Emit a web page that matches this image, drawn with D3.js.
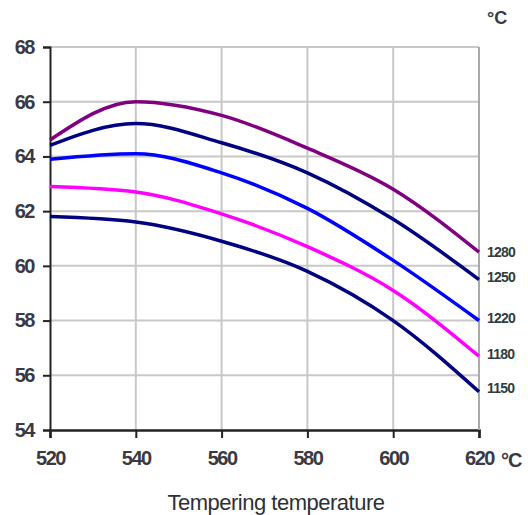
<!DOCTYPE html>
<html>
<head>
<meta charset="utf-8">
<script src="https://cdn.jsdelivr.net/npm/d3@7"></script>
<style>
  body { margin: 0; background: #fff; }
  svg { display: block; font-family: "Liberation Sans", Arial, sans-serif; }
</style>
</head>
<body>
<div id="chart"></div>
<script>
// tempering temperature (x) vs hardness, one curve per hardening temperature
const temps = [520, 540, 560, 580, 600, 620];
const yTicks = [54, 56, 58, 60, 62, 64, 66, 68];

const h1280 = [64.6, 66.0, 65.5, 64.3, 62.8, 60.5];
const h1250 = [64.4, 65.2, 64.5, 63.4, 61.7, 59.5];
const h1220 = [63.9, 64.1, 63.4, 62.1, 60.2, 58.0];
const h1180 = [62.9, 62.7, 61.9, 60.7, 59.1, 56.7];
const h1150 = [61.8, 61.6, 60.9, 59.8, 58.0, 55.4];

const seriesNames = ["1280", "1250", "1220", "1180", "1150"];
const seriesColors = ["#800080", "#000080", "#0000ff", "#ff00ff", "#000080"];
const series = [h1280, h1250, h1220, h1180, h1150];

const svg = d3.select("#chart").append("svg")
    .attr("width", 528)
    .attr("height", 515);

const margin = {top: 47, right: 49, bottom: 85, left: 50};
const width = 528 - margin.left - margin.right;
const height = 515 - margin.top - margin.bottom;

const g = svg.append("g").attr("transform", `translate(${margin.left},${margin.top})`);

const x = d3.scaleLinear().domain([520, 620]).range([0, width]);
const y = d3.scaleLinear().domain([54, 68]).range([height, 0]);

// grid
g.append("g").selectAll("line")
    .data(temps.slice(1))
    .enter().append("line")
    .attr("x1", d => x(d)).attr("x2", d => x(d))
    .attr("y1", 0).attr("y2", height)
    .attr("stroke", "#c8c8c8")
    .attr("stroke-width", 2);

g.append("g").selectAll("line")
    .data(yTicks.slice(1))
    .enter().append("line")
    .attr("x1", 0).attr("x2", width)
    .attr("y1", d => y(d)).attr("y2", d => y(d))
    .attr("stroke", "#c8c8c8")
    .attr("stroke-width", 2);

// axes
const yAxis = g.append("g")
    .call(d3.axisLeft(y).tickValues(yTicks).tickSize(7).tickPadding(9).tickFormat(d3.format("d")));
yAxis.select(".domain").attr("stroke", "#222").attr("stroke-width", 2);
yAxis.selectAll(".tick line").attr("stroke", "#222").attr("stroke-width", 2);
yAxis.selectAll(".tick text")
    .attr("fill", "#3a3a44")
    .style("font-size", "20px")
    .style("font-weight", "bold")
    .style("letter-spacing", "-1.5px");

const xAxis = g.append("g")
    .attr("transform", `translate(0,${height})`)
    .call(d3.axisBottom(x).tickValues(temps).tickSize(8).tickPadding(13).tickFormat(d3.format("d")));
xAxis.select(".domain").attr("stroke", "#222").attr("stroke-width", 2.5);
xAxis.selectAll(".tick line").attr("stroke", "#222").attr("stroke-width", 2);
xAxis.selectAll(".tick text")
    .attr("fill", "#3a3a44")
    .style("font-size", "20px")
    .style("font-weight", "bold")
    .style("letter-spacing", "-1.5px");

g.append("text")
    .attr("x", x(620) + 22)
    .attr("y", height + 37)
    .attr("fill", "#3a3a44")
    .style("font-size", "20px")
    .style("font-weight", "bold")
    .style("letter-spacing", "-1px")
    .text("°C");

// right border
g.append("line")
    .attr("x1", width).attr("x2", width)
    .attr("y1", 0).attr("y2", height)
    .attr("stroke", "#aaa")
    .attr("stroke-width", 2);

// curves
const line = d3.line()
    .x((d, i) => x(temps[i]))
    .y(d => y(d))
    .curve(d3.curveMonotoneX);

g.selectAll(".curve")
    .data(series)
    .enter().append("path")
    .attr("class", "curve")
    .attr("fill", "none")
    .attr("stroke", (d, i) => seriesColors[i])
    .attr("stroke-width", 3.5)
    .attr("d", line);

// series labels at the right end
g.selectAll(".lab")
    .data(series)
    .enter().append("text")
    .attr("class", "lab")
    .attr("x", width + 8)
    .attr("y", (d, i) => y(d[d.length - 1]) + [0, -2, -2, -2, -4][i])
    .attr("dy", "0.35em")
    .attr("fill", "#2f3d40")
    .style("font-size", "14px")
    .style("font-weight", "bold")
    .style("letter-spacing", "-0.8px")
    .text((d, i) => seriesNames[i]);

// unit at top right
svg.append("text")
    .attr("x", 487)
    .attr("y", 24)
    .attr("fill", "#3a3a44")
    .style("font-size", "18px")
    .style("font-weight", "bold")
    .text("°C");

// axis title
svg.append("text")
    .attr("x", 276)
    .attr("y", 510)
    .attr("text-anchor", "middle")
    .attr("fill", "#2f2f38")
    .style("font-size", "22px")
    .style("letter-spacing", "-0.5px")
    .text("Tempering temperature");
</script>
</body>
</html>
